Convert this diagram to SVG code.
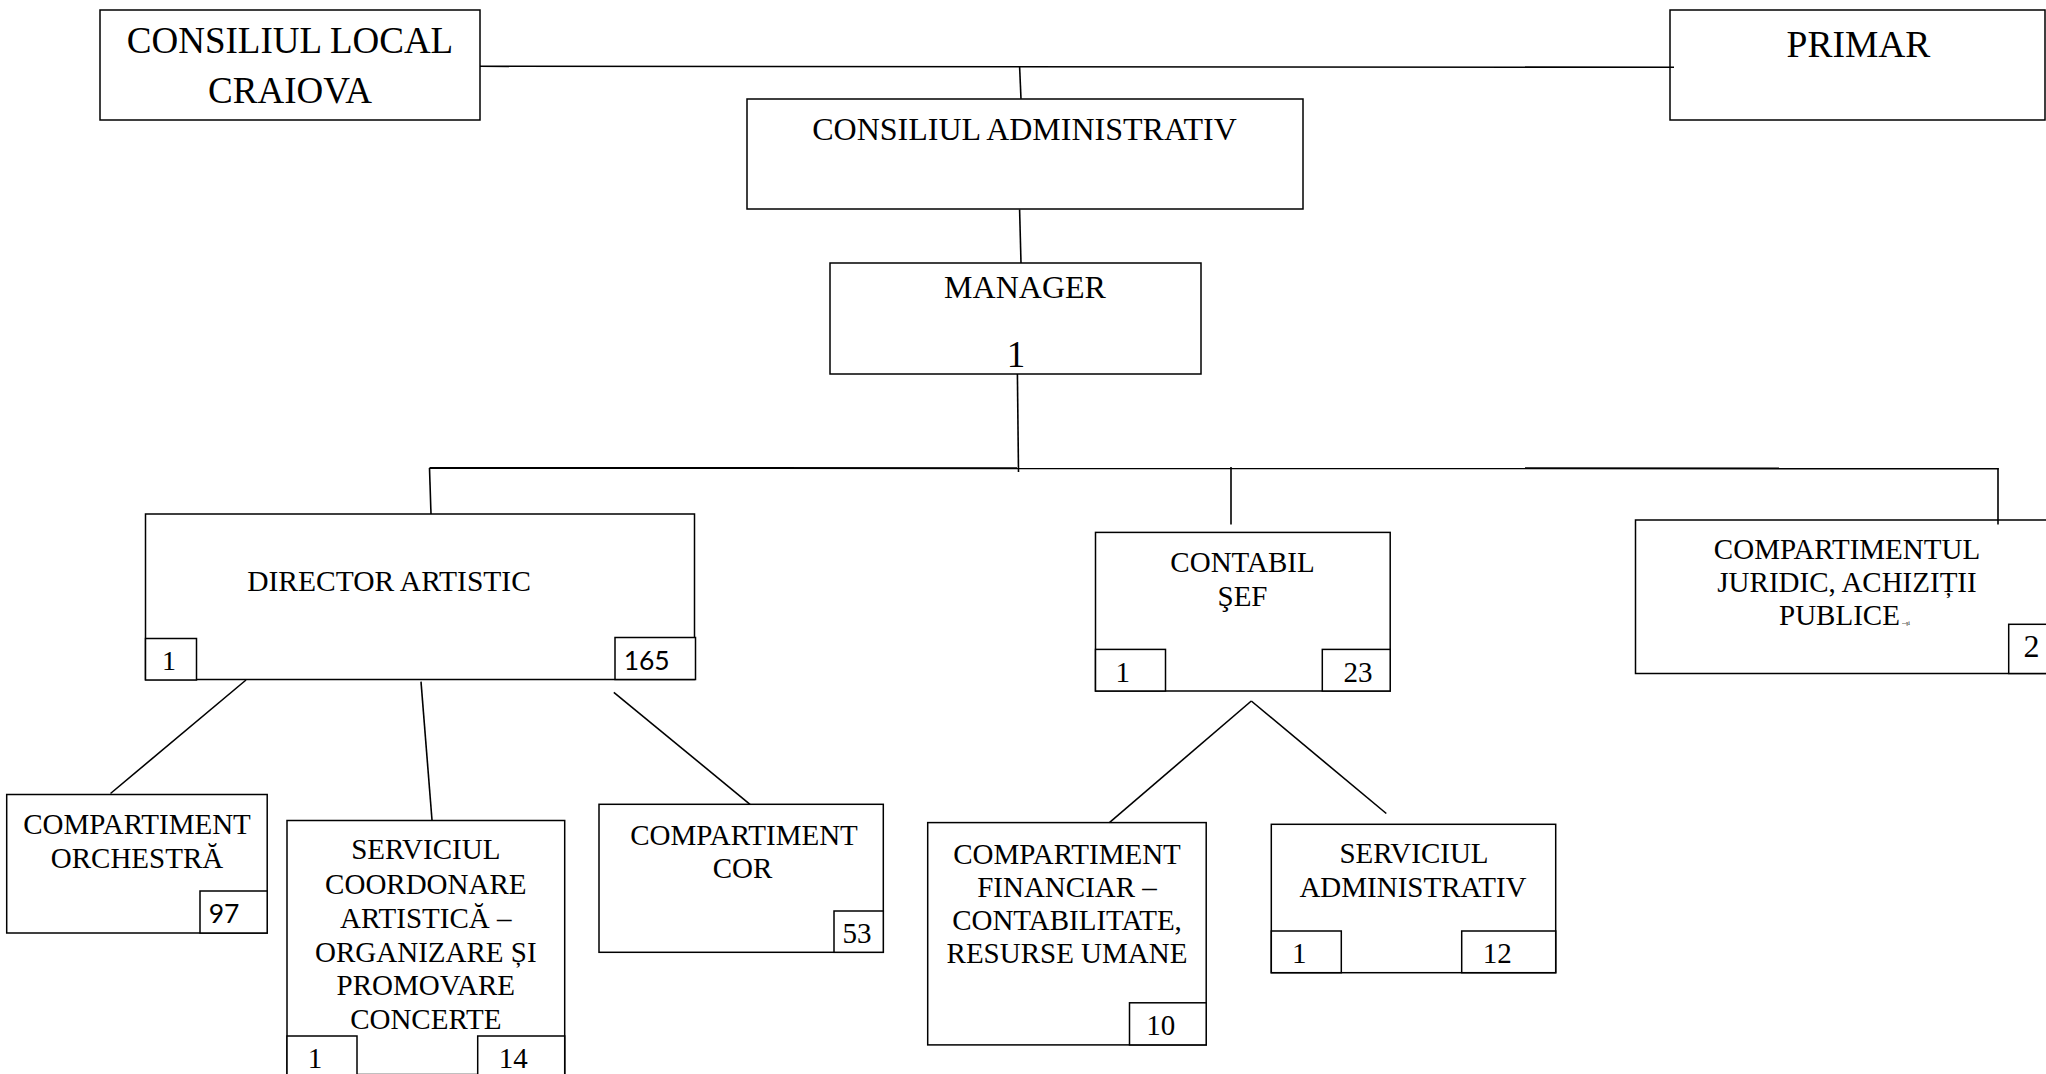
<svg xmlns="http://www.w3.org/2000/svg" width="2046" height="1074" viewBox="0 0 2046 1074">
<style>
.bg{fill:#fff}
.box{fill:#fff;stroke:#000;stroke-width:1.5}
.t{font-family:"Liberation Serif","Times New Roman",serif;fill:#000;text-anchor:middle}
.s{font-family:Lato,"Open Sans",sans-serif;fill:#000;text-anchor:middle;font-size:26.5px}
.f29{font-size:29px}
.conn line{stroke:#000;stroke-width:1.6;fill:none}
</style>
<rect class="bg" x="0" y="0" width="2046" height="1074"/>

<g id="consiliul-local">
<rect class="box" x="100" y="10" width="380" height="110"/>
<text class="t" x="290" y="53" font-size="37">CONSILIUL LOCAL</text>
<text class="t" x="290" y="103" font-size="37">CRAIOVA</text>
</g>

<g id="primar">
<rect class="box" x="1670" y="10" width="375" height="110"/>
<text class="t" x="1858.5" y="57" font-size="37.5">PRIMAR</text>
</g>

<g id="consiliul-administrativ">
<rect class="box" x="747" y="99" width="556" height="110"/>
<text class="t" x="1024.5" y="140" font-size="32">CONSILIUL ADMINISTRATIV</text>
</g>

<g id="manager">
<rect class="box" x="830" y="263" width="371" height="111"/>
<text class="t" x="1025" y="298" font-size="32">MANAGER</text>
<text class="t" x="1016" y="367" font-size="37">1</text>
</g>

<g id="director-artistic">
<rect class="box" x="145.5" y="514" width="549" height="165.5"/>
<text class="t" x="389" y="591" font-size="29.5">DIRECTOR ARTISTIC</text>
<rect class="box" x="145.5" y="638.5" width="51" height="41.5"/>
<text class="t" x="169" y="670" font-size="28">1</text>
<rect class="box" x="615" y="637.5" width="80.5" height="42"/>
<text class="s" x="646.7" y="670">165</text>
</g>

<g id="compartiment-orchestra">
<rect class="box" x="6.7" y="794.5" width="260.5" height="138.5"/>
<text class="t f29" x="137" y="834">COMPARTIMENT</text>
<text class="t f29" x="137" y="868">ORCHESTRĂ</text>
<rect class="box" x="200" y="891" width="67.2" height="42"/>
<text class="s" x="224" y="923">97</text>
</g>

<g id="serviciul-coordonare">
<rect class="box" x="287" y="820.5" width="277.7" height="254"/>
<text class="t f29" x="425.8" y="859">SERVICIUL</text>
<text class="t f29" x="425.8" y="893.5">COORDONARE</text>
<text class="t f29" x="425.8" y="928">ARTISTICĂ –</text>
<text class="t f29" x="425.8" y="961.5">ORGANIZARE ȘI</text>
<text class="t f29" x="425.8" y="995">PROMOVARE</text>
<text class="t f29" x="425.8" y="1028.5">CONCERTE</text>
<rect class="box" x="287" y="1036" width="70" height="40"/>
<text class="t f29" x="315" y="1068">1</text>
<rect class="box" x="477.7" y="1036" width="87" height="40"/>
<text class="t f29" x="513.3" y="1068">14</text>
</g>

<g id="compartiment-cor">
<rect class="box" x="599" y="804.3" width="284.3" height="148"/>
<text class="t f29" x="744" y="845">COMPARTIMENT</text>
<text class="t f29" x="742.5" y="878.3">COR</text>
<rect class="box" x="834" y="911" width="49.3" height="41.3"/>
<text class="t f29" x="857" y="942.7">53</text>
</g>

<g id="contabil-sef">
<rect class="box" x="1095.5" y="532.4" width="294.7" height="158.6"/>
<text class="t f29" x="1242.5" y="572">CONTABIL</text>
<text class="t f29" x="1242.5" y="606.4">ŞEF</text>
<rect class="box" x="1095.5" y="649.4" width="70" height="41.6"/>
<text class="t f29" x="1122.8" y="681.6">1</text>
<rect class="box" x="1322.3" y="649.4" width="67.9" height="41.6"/>
<text class="t f29" x="1358" y="681.6">23</text>
</g>

<g id="compartiment-financiar">
<rect class="box" x="927.7" y="822.6" width="278.5" height="222.3"/>
<text class="t f29" x="1067" y="863.5">COMPARTIMENT</text>
<text class="t f29" x="1067" y="896.6">FINANCIAR –</text>
<text class="t f29" x="1067" y="929.7">CONTABILITATE,</text>
<text class="t f29" x="1067" y="963.2">RESURSE UMANE</text>
<rect class="box" x="1129.5" y="1002.8" width="76.7" height="42.1"/>
<text class="t f29" x="1160.7" y="1035.4">10</text>
</g>

<g id="serviciul-administrativ">
<rect class="box" x="1271.3" y="824.3" width="284.4" height="148.4"/>
<text class="t f29" x="1414" y="863.3">SERVICIUL</text>
<text class="t f29" x="1413" y="897.3">ADMINISTRATIV</text>
<rect class="box" x="1271.3" y="931" width="70" height="41.7"/>
<text class="t f29" x="1299.3" y="962.7">1</text>
<rect class="box" x="1461.7" y="931" width="94" height="41.7"/>
<text class="t f29" x="1497.2" y="962.7">12</text>
</g>

<g id="compartimentul-juridic">
<rect class="box" x="1635.5" y="520" width="420" height="153.5"/>
<text class="t f29" x="1847" y="559.4">COMPARTIMENTUL</text>
<text class="t f29" x="1847" y="591.5">JURIDIC, ACHIZIȚII</text>
<text class="t f29" x="1779" y="625" style="text-anchor:start">PUBLICE</text>
<text class="t" x="1902" y="625" font-size="6" style="text-anchor:start">--şi</text>
<rect class="box" x="2008.7" y="624.3" width="45" height="49.2"/>
<text class="t" x="2031.5" y="656.5" font-size="32">2</text>
</g>

<g id="connectors" class="conn">
<line x1="480" y1="66.3" x2="1674" y2="67.3"/>
<line x1="1019.6" y1="66.5" x2="1021" y2="98.7"/>
<line x1="1019.6" y1="209.5" x2="1021" y2="263"/>
<line x1="1017.4" y1="374" x2="1018.5" y2="472"/>
<line x1="429.5" y1="468" x2="1998.5" y2="468.5" style="stroke-width:2"/>
<line x1="429.5" y1="468" x2="431" y2="514"/>
<line x1="1231" y1="467" x2="1231" y2="524.5"/>
<line x1="1998" y1="468" x2="1998" y2="524.5"/>
<line x1="246" y1="680" x2="110.5" y2="793.5"/>
<line x1="421" y1="681.6" x2="432" y2="820"/>
<line x1="613.8" y1="692.3" x2="750" y2="804.3"/>
<line x1="1251.3" y1="701" x2="1109.4" y2="822.6"/>
<line x1="1251.3" y1="701" x2="1386.3" y2="813.5"/>
</g>
</svg>
